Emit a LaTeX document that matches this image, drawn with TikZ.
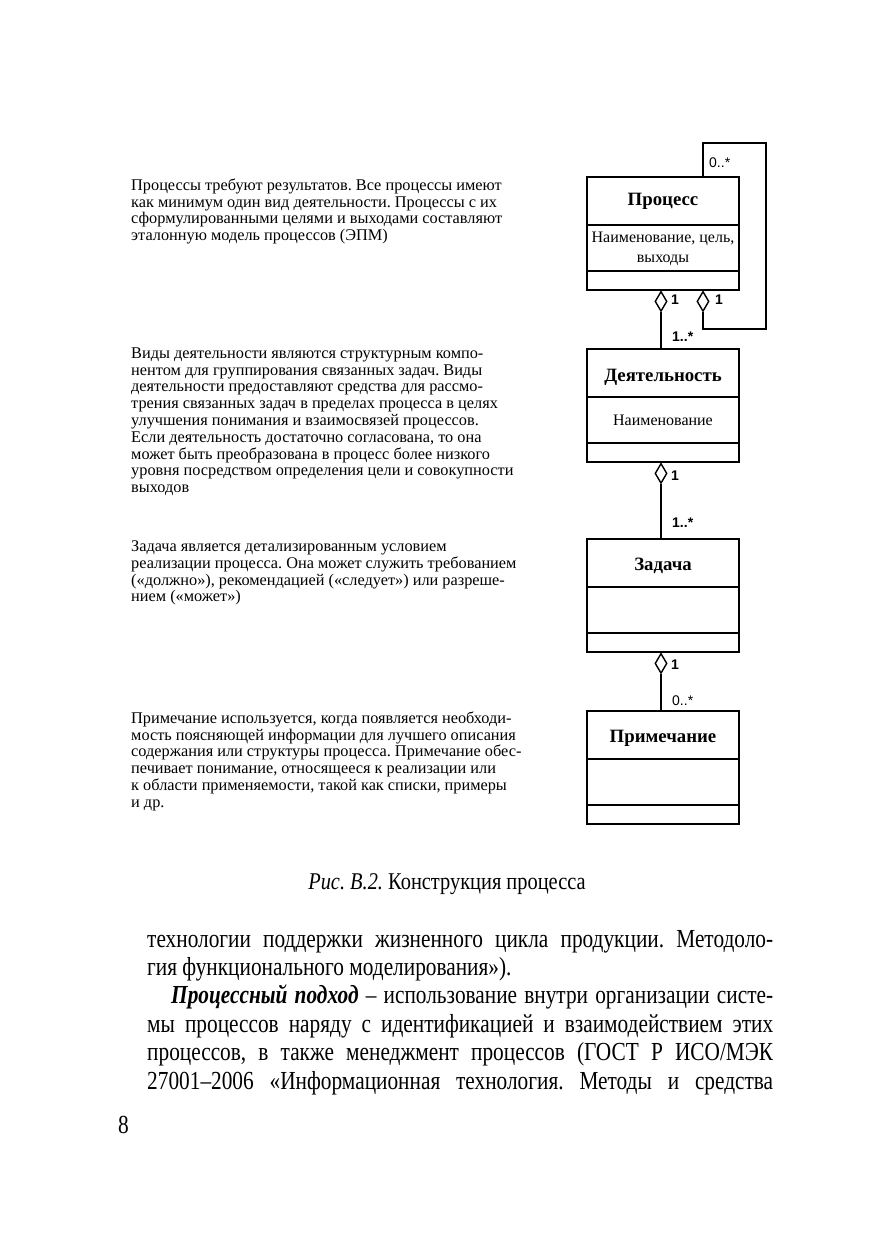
\documentclass[tikz,border=0pt]{standalone}
\usepackage{fontspec}
\setmainfont{Liberation Serif}
\newfontfamily\labfont{Liberation Sans}
\newfontfamily\bodyfont[FakeStretch=0.82]{Liberation Serif}
\newfontfamily\capfont[FakeStretch=0.85]{Liberation Serif}
\usetikzlibrary{shapes.geometric}
\frenchspacing
\begin{document}
\begin{tikzpicture}[x=1pt,y=-1pt,
  classbox/.style={draw, line width=1.7pt, minimum width=152pt, minimum height=113pt, inner sep=0pt, anchor=north},
  divider/.style={line width=1.2pt},
  agg/.style={diamond, draw, line width=1.4pt, fill=white, minimum width=12pt, minimum height=20pt, inner sep=0pt, anchor=north},
  conn/.style={line width=1.5pt},
  title/.style={anchor=base, inner sep=0pt, font=\fontsize{18.8pt}{20pt}\selectfont\bfseries},
  attr/.style={anchor=base, inner sep=0pt, font=\fontsize{16pt}{18pt}\selectfont},
  mult/.style={anchor=west, inner sep=0pt, font=\fontsize{14pt}{16pt}\selectfont\labfont},
  multb/.style={mult, font=\fontsize{14pt}{16pt}\selectfont\labfont\bfseries},
  side/.style={anchor=north west, inner sep=0pt, align=left, font=\fontsize{16.3pt}{16.8pt}\selectfont},
  bodyline/.style={anchor=base west, inner sep=0pt, font=\fontsize{26pt}{28pt}\selectfont\bodyfont}
]
\useasboundingbox[fill=white] (0,0) rectangle (875,1241);

% class boxes
\node[classbox] (proc) at (663,176) {};
\node[classbox] (act) at (663,348) {};
\node[classbox] (task) at (663,538) {};
\node[classbox] (note) at (663,710) {};
\foreach \b in {proc,act,task,note}{
  \draw[divider] ([yshift=-49pt]\b.north west) -- ([yshift=-49pt]\b.north east);
  \draw[divider] ([yshift=-95pt]\b.north west) -- ([yshift=-95pt]\b.north east);
}

% titles and attributes
\node[title] (tproc) at (663,206) {Процесс};
\node[attr] (aproc1) at (663,243) {Наименование, цель,};
\node[attr] (aproc2) at (663,262) {выходы};
\node[title] (tact) at (663,381) {Деятельность};
\node[attr] (aact) at (663,425) {Наименование};
\node[title] (ttask) at (663,570) {Задача};
\node[title] (tnote) at (663,742) {Примечание};

% aggregation diamonds
\node[agg] (d1) at ([xshift=-2pt]proc.south) {};
\node[agg] (d2) at ([xshift=40pt]proc.south) {};
\node[agg] (d3) at ([xshift=-2pt]act.south) {};
\node[agg] (d4) at ([xshift=-2pt]task.south) {};

% connectors
\draw[conn] (d1.south) -- (d1.south |- act.north);
\draw[conn] (d3.south) -- (d3.south |- task.north);
\draw[conn] (d4.south) -- (d4.south |- note.north);
\coordinate (loopBR) at (766,329);
\coordinate (loopTR) at (766,143);
\draw[conn] (d2.south) |- (loopBR) -- (loopTR) -| (d2.south |- proc.north);

% multiplicities
\node[mult] (m0) at (709,163) {0..*};
\node[multb] (m1) at (671,300) {1};
\node[multb] (m2) at (715,300) {1};
\node[multb] (m3) at (672,337) {1..*};
\node[multb] (m4) at (671,476) {1};
\node[multb] (m5) at (672,523) {1..*};
\node[multb] (m6) at (671,665) {1};
\node[mult] (m7) at (672,701) {0..*};

% side descriptions
\node[side] (s1) at (131,178.5) {Процессы требуют результатов. Все процессы имеют\\как минимум один вид деятельности. Процессы с их\\сформулированными целями и выходами составляют\\эталонную модель процессов (ЭПМ)};
\node[side] (s2) at (131,347.5) {Виды деятельности являются структурным компо-\\нентом для группирования связанных задач. Виды\\деятельности предоставляют средства для рассмо-\\трения связанных задач в пределах процесса в целях\\улучшения понимания и взаимосвязей процессов.\\Если деятельность достаточно согласована, то она\\может быть преобразована в процесс более низкого\\уровня посредством определения цели и совокупности\\выходов};
\node[side] (s3) at (131,540.5) {Задача является детализированным условием\\реализации процесса. Она может служить требованием\\(«должно»), рекомендацией («следует») или разреше-\\нием («может»)};
\node[side] (s4) at (131,711.5) {Примечание используется, когда появляется необходи-\\мость поясняющей информации для лучшего описания\\содержания или структуры процесса. Примечание обес-\\печивает понимание, относящееся к реализации или\\к области применяемости, такой как списки, примеры\\и др.};

% caption
\node[anchor=base, inner sep=0pt, font=\fontsize{24pt}{26pt}\selectfont\capfont] (cap) at (447,889) {\textit{Рис. В.2.} Конструкция процесса};

% body text
\node[bodyline] (b1) at (147,947) {\makebox[626pt][s]{технологии поддержки жизненного цикла продукции. Методоло-}};
\node[bodyline] (b2) at (147,975.4) {гия функционального моделирования»).};
\node[bodyline] (b3) at (147,1003.8) {\makebox[626pt][s]{\hspace*{24pt}\textbf{\textit{Процессный подход}} – использование внутри организации систе-}};
\node[bodyline] (b4) at (147,1032.2) {\makebox[626pt][s]{мы процессов наряду с идентификацией и взаимодействием этих}};
\node[bodyline] (b5) at (147,1060.6) {\makebox[626pt][s]{процессов, в также менеджмент процессов (ГОСТ Р ИСО/МЭК}};
\node[bodyline] (b6) at (147,1089) {\makebox[626pt][s]{27001–2006 «Информационная технология. Методы и средства}};

% page number
\node[bodyline] (pg) at (118,1133) {8};
\end{tikzpicture}
\end{document}
